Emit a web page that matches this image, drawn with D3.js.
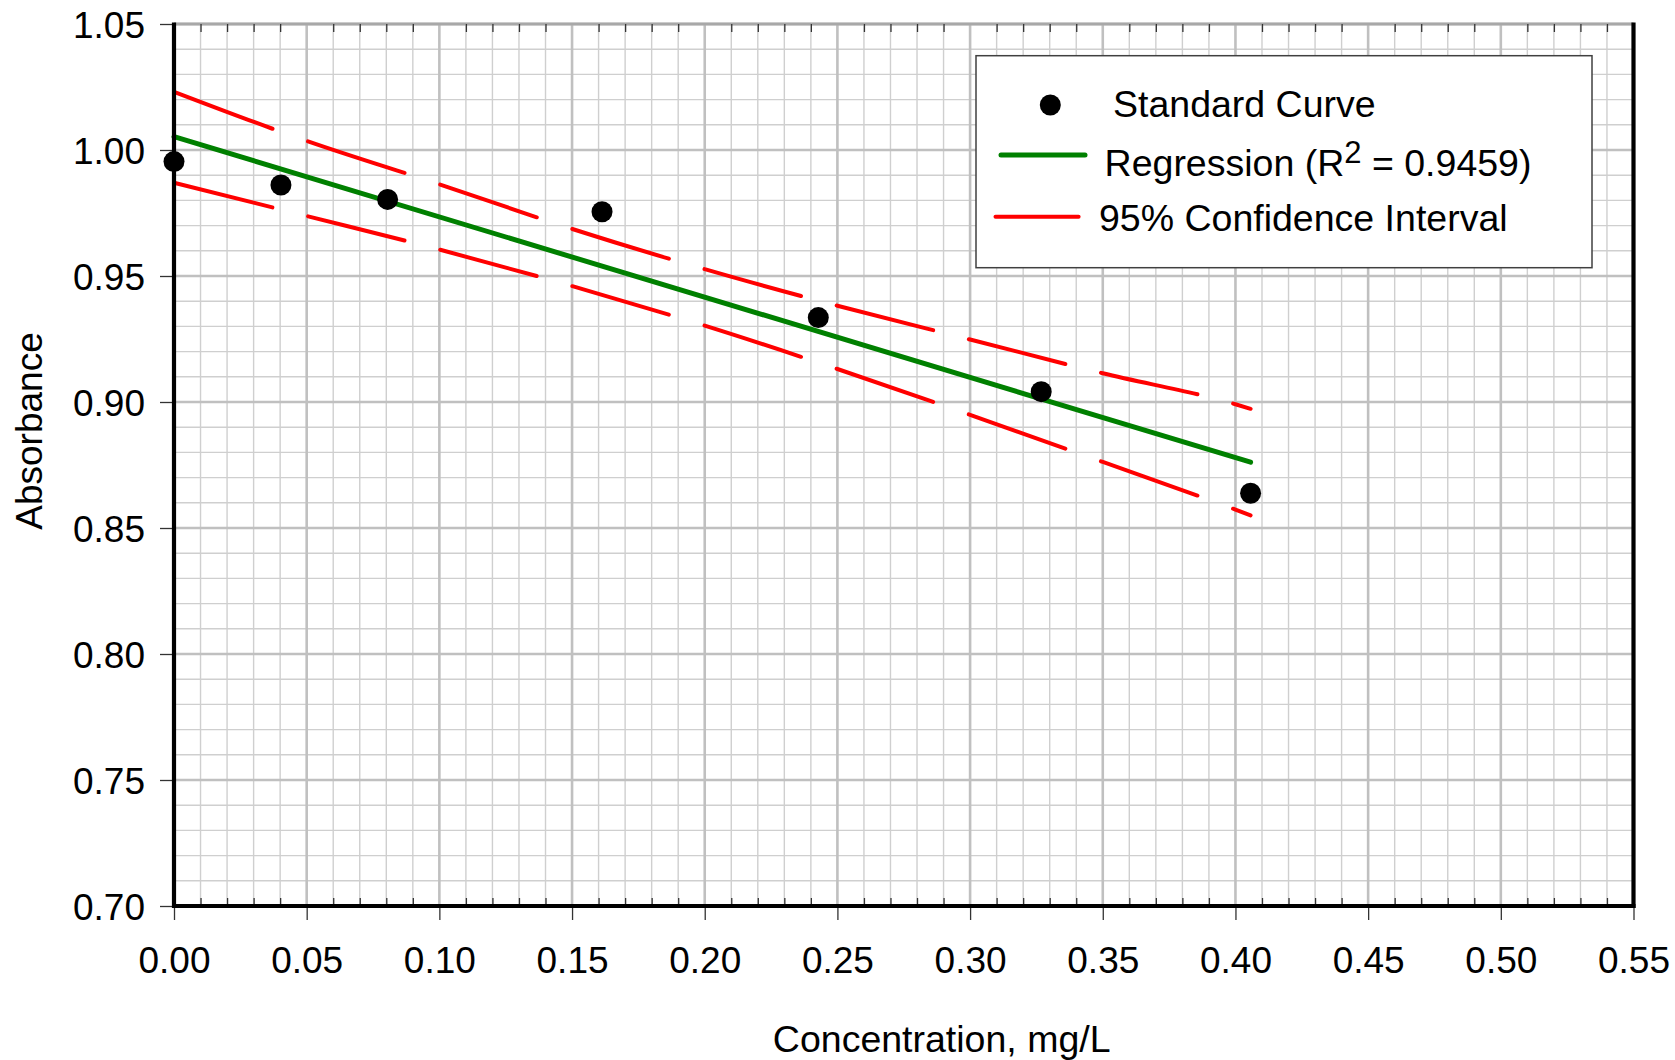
<!DOCTYPE html>
<html>
<head>
<meta charset="utf-8">
<script src="https://cdn.jsdelivr.net/npm/d3@7"></script>
<style>
  html, body { margin: 0; padding: 0; background: #ffffff; }
  svg { display: block; font-family: "Liberation Sans", Arial, sans-serif; }
</style>
</head>
<body>
<svg id="chart" width="1675" height="1060"></svg>
<script>
// Calibration standards: concentration (mg/L) and measured absorbance
const conc = [0, 0.0403, 0.0805, 0.1613, 0.2428, 0.3268, 0.4057];
const absorbance = [0.9954, 0.9861, 0.9804, 0.9755, 0.9335, 0.9041, 0.8638];

// Least-squares fit line, end points
const fitX = [0, 0.4057];
const fitY = [1.0053, 0.8761];

// 95% confidence band around the fit
const bandX = [0, 0.05, 0.10, 0.15, 0.20, 0.25, 0.30, 0.35, 0.40, 0.4057];
const bandUpper = [1.0231, 1.0036, 0.9864, 0.9687, 0.9527, 0.9382, 0.9248, 0.9114, 0.8991, 0.8973];
const bandLower = [0.9870, 0.9738, 0.9605, 0.9460, 0.9303, 0.9131, 0.8949, 0.8762, 0.8573, 0.8550];

// Axis ticks
const xTickLabels = ["0.00", "0.05", "0.10", "0.15", "0.20", "0.25", "0.30", "0.35", "0.40", "0.45", "0.50", "0.55"];
const yTickLabels = ["0.70", "0.75", "0.80", "0.85", "0.90", "0.95", "1.00", "1.05"];
const minorStep = 0.01;

const legendLabels = ["Standard Curve", "Regression (R", "95% Confidence Interval"];
const rSquared = "0.9459";

const svg = d3.select("#chart");
const plot = { left: 174, right: 1633.5, top: 24, bottom: 906 };
const FONT = "'Liberation Sans', Arial, sans-serif";

const xMajor = xTickLabels.map(Number);
const yMajor = yTickLabels.map(Number);

const x = d3.scaleLinear().domain([xMajor[0], xMajor[xMajor.length - 1]]).range([plot.left, plot.right]);
const y = d3.scaleLinear().domain([yMajor[0], yMajor[yMajor.length - 1]]).range([plot.bottom, plot.top]);

const round2 = v => Math.round(v * 100) / 100;
const xMinor = d3.range(Math.round((x.domain()[1] - x.domain()[0]) / minorStep) + 1).map(i => round2(x.domain()[0] + i * minorStep));
const yMinor = d3.range(Math.round((y.domain()[1] - y.domain()[0]) / minorStep) + 1).map(i => round2(y.domain()[0] + i * minorStep));
const isMajor = (v, list) => list.some(m => Math.abs(m - v) < 1e-6);
const xMinorOnly = xMinor.filter(v => !isMajor(v, xMajor));
const yMinorOnly = yMinor.filter(v => !isMajor(v, yMajor));

svg.append("rect").attr("width", 1675).attr("height", 1060).attr("fill", "#ffffff");

// Grid: fine lines first, then the heavier major lines
const grid = svg.append("g");
grid.selectAll(".vminor").data(xMinorOnly).join("line")
  .attr("x1", d => x(d)).attr("x2", d => x(d))
  .attr("y1", plot.top).attr("y2", plot.bottom)
  .attr("stroke", "#cfcfcf").attr("stroke-width", 1.4);
grid.selectAll(".hminor").data(yMinorOnly).join("line")
  .attr("x1", plot.left).attr("x2", plot.right)
  .attr("y1", d => y(d)).attr("y2", d => y(d))
  .attr("stroke", "#cfcfcf").attr("stroke-width", 1.4);
grid.selectAll(".vmajor").data(xMajor).join("line")
  .attr("x1", d => x(d)).attr("x2", d => x(d))
  .attr("y1", plot.top).attr("y2", plot.bottom)
  .attr("stroke", "#c0c0c0").attr("stroke-width", 2.6);
grid.selectAll(".hmajor").data(yMajor).join("line")
  .attr("x1", plot.left).attr("x2", plot.right)
  .attr("y1", d => y(d)).attr("y2", d => y(d))
  .attr("stroke", "#c0c0c0").attr("stroke-width", 2.6);

// Top edge of the plot area
svg.append("line")
  .attr("x1", plot.left).attr("x2", plot.right)
  .attr("y1", plot.top).attr("y2", plot.top)
  .attr("stroke", "#a8a8a8").attr("stroke-width", 3);

// Confidence band, drawn as long dashes that repeat at a fixed horizontal pitch
const dashPitch = 0.0498;   // mg/L between dash starts
const dashRun = 0.0378;     // mg/L covered by each dash
const cap = 2;              // half the stroke width (round caps)

function lengthAtPx(node, px) {
  let lo = 0, hi = node.getTotalLength();
  for (let k = 0; k < 40; k++) {
    const mid = (lo + hi) / 2;
    if (node.getPointAtLength(mid).x < px) lo = mid; else hi = mid;
  }
  return (lo + hi) / 2;
}

const bandLine = d3.line().x(d => x(d[0])).y(d => y(d[1])).curve(d3.curveMonotoneX);
[bandUpper, bandLower].forEach(vals => {
  const path = svg.append("path")
    .datum(bandX.map((bx, i) => [bx, vals[i]]))
    .attr("d", bandLine)
    .attr("fill", "none")
    .attr("stroke", "#ff0000")
    .attr("stroke-width", 4)
    .attr("stroke-linecap", "round");
  const node = path.node();
  const total = node.getTotalLength();
  const xEnd = bandX[bandX.length - 1];
  const pattern = [];
  let pos = 0;
  for (let s = 0; s < xEnd; s += dashPitch) {
    const a = s === 0 ? 0 : lengthAtPx(node, x(s)) + cap;
    const b = Math.min(total, s + dashRun >= xEnd ? total : lengthAtPx(node, x(s + dashRun)) - cap);
    if (b <= a) break;
    pattern.push(a - pos);          // gap before this dash
    pattern.push(b - a);            // the dash itself
    pos = b;
  }
  pattern.push(total + 10);
  // dasharray starts with a dash, so lead with a zero-length dash
  path.attr("stroke-dasharray", [0].concat(pattern).join(" "));
});

// Regression line
svg.append("path")
  .datum(fitX.map((fx, i) => [fx, fitY[i]]))
  .attr("d", d3.line().x(d => x(d[0])).y(d => y(d[1])))
  .attr("fill", "none")
  .attr("stroke", "#008000")
  .attr("stroke-width", 5)
  .attr("stroke-linecap", "round");

// Standard points
svg.selectAll(".pt").data(conc.map((c, i) => [c, absorbance[i]])).join("ellipse")
  .attr("cx", d => x(d[0])).attr("cy", d => y(d[1]))
  .attr("rx", 10.5).attr("ry", 10.5)
  .attr("fill", "#000000");

// Axes
const tickStyle = g => {
  g.select(".domain").remove();
  g.selectAll(".tick line").attr("stroke", "#333333").attr("stroke-width", 1.3);
};

svg.append("g")
  .attr("transform", `translate(0,${plot.bottom})`)
  .call(d3.axisBottom(x).tickValues(xMajor).tickSize(14).tickFormat((d, i) => xTickLabels[i]))
  .call(tickStyle)
  .call(g => g.selectAll(".tick text")
    .attr("y", 67).attr("dy", null)
    .attr("fill", "#000000")
    .style("font-size", "37px")
    .style("font-family", FONT));

svg.append("g")
  .attr("transform", `translate(0,${plot.bottom})`)
  .call(d3.axisBottom(x).tickValues(xMinorOnly).tickSize(-8).tickFormat(""))
  .call(tickStyle);

svg.append("g")
  .attr("transform", `translate(0,${plot.top})`)
  .call(d3.axisTop(x).tickValues(xMinorOnly).tickSize(-8).tickFormat(""))
  .call(tickStyle);

svg.append("g")
  .attr("transform", `translate(${plot.left},0)`)
  .call(d3.axisLeft(y).tickValues(yMajor).tickSize(14).tickPadding(15).tickFormat((d, i) => yTickLabels[i]))
  .call(tickStyle)
  .call(g => g.selectAll(".tick text")
    .attr("dy", "0.36em")
    .attr("fill", "#000000")
    .style("font-size", "37px")
    .style("font-family", FONT));

// Heavy black axis lines on left, bottom and right
const frame = svg.append("g").attr("stroke", "#000000").attr("stroke-width", 4.2);
frame.append("line").attr("x1", plot.left).attr("x2", plot.left).attr("y1", plot.top - 1.5).attr("y2", plot.bottom + 2);
frame.append("line").attr("x1", plot.left - 2).attr("x2", plot.right + 2).attr("y1", plot.bottom).attr("y2", plot.bottom);
frame.append("line").attr("x1", plot.right).attr("x2", plot.right).attr("y1", plot.top - 1.5).attr("y2", plot.bottom + 2);

// Axis titles
svg.append("text")
  .attr("x", 941.7).attr("y", 1052)
  .attr("text-anchor", "middle")
  .style("font-size", "37.5px")
  .text("Concentration, mg/L");

svg.append("text")
  .attr("transform", "translate(41.5,431) rotate(-90)")
  .attr("text-anchor", "middle")
  .style("font-size", "37px")
  .text("Absorbance");

// Legend
const legend = svg.append("g");
legend.append("rect")
  .attr("x", 976).attr("y", 55.7).attr("width", 616).attr("height", 212)
  .attr("fill", "#ffffff").attr("stroke", "#404040").attr("stroke-width", 1.5);

legend.append("ellipse").attr("cx", 1050.3).attr("cy", 105).attr("rx", 10.5).attr("ry", 10.5).attr("fill", "#000000");
legend.append("text").attr("x", 1113).attr("y", 117).style("font-size", "37.5px").text(legendLabels[0]);

legend.append("line").attr("x1", 1001).attr("x2", 1085).attr("y1", 155).attr("y2", 155)
  .attr("stroke", "#008000").attr("stroke-width", 5).attr("stroke-linecap", "round");
const regText = legend.append("text").attr("x", 1104.6).attr("y", 176).style("font-size", "37.5px");
regText.append("tspan").text(legendLabels[1]);
regText.append("tspan").attr("dy", -13.5).style("font-size", "31px").text("2");
regText.append("tspan").attr("dy", 13.5).text(` = ${rSquared})`);

legend.append("line").attr("x1", 995.5).attr("x2", 1078.6).attr("y1", 216.7).attr("y2", 216.7)
  .attr("stroke", "#ff0000").attr("stroke-width", 4).attr("stroke-linecap", "round");
legend.append("text").attr("x", 1099).attr("y", 231).style("font-size", "37.5px").text(legendLabels[2]);
</script>
</body>
</html>
